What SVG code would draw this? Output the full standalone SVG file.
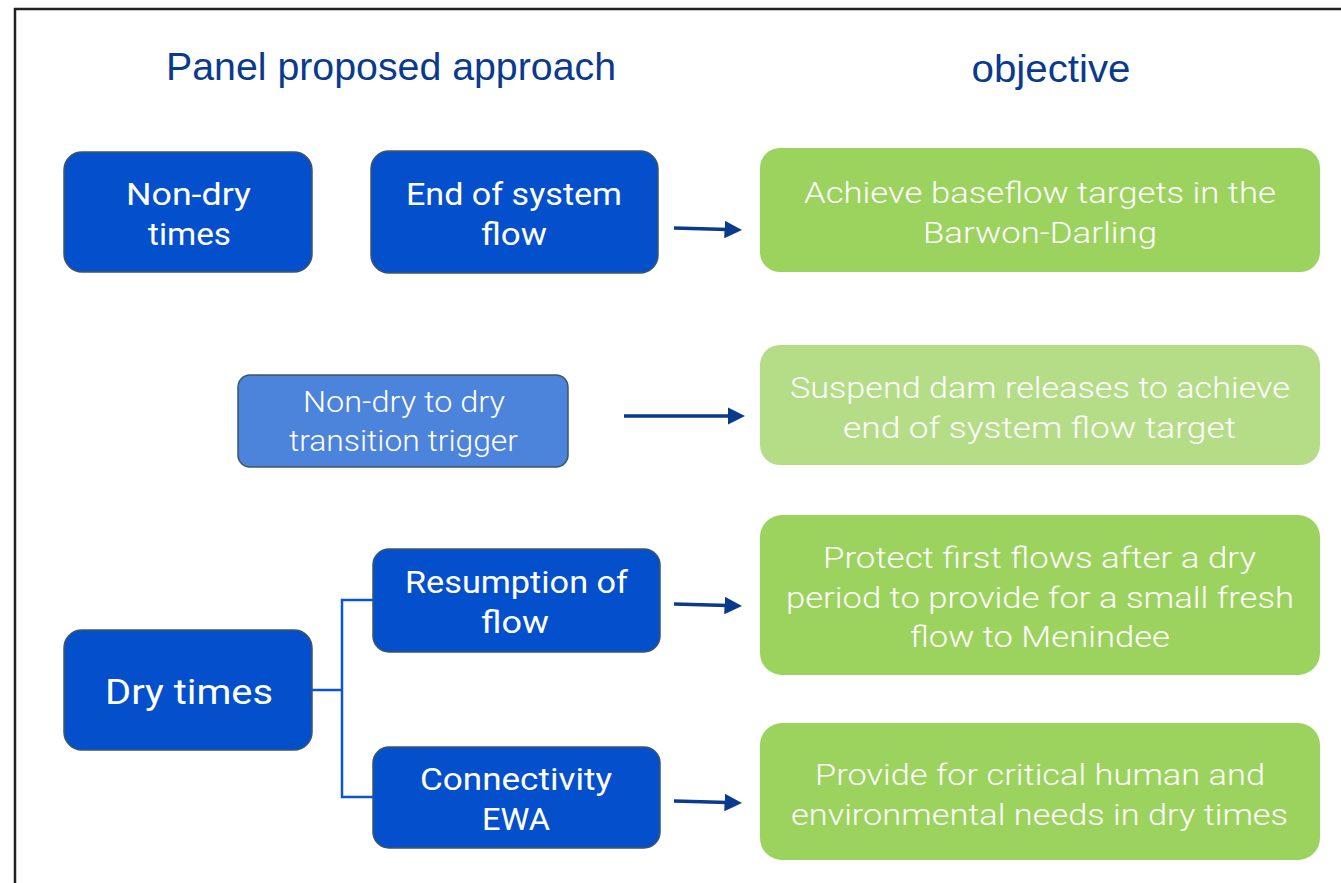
<svg xmlns="http://www.w3.org/2000/svg" width="1341" height="883" viewBox="0 0 1341 883">
<style>
.title{font-family:"Liberation Sans",Arial,sans-serif;font-size:38px;fill:#0a3a8e;text-anchor:middle}
.blue{fill:#0450cc;stroke:#3c5566;stroke-width:1.5}
.lblue{fill:#4c83db;stroke:#3c5566;stroke-width:1.5}
.green{fill:#9cd35e}
.lgreen{fill:#b5dd88}
.bt{font-family:Roboto,"Liberation Sans",sans-serif;font-size:31px;fill:#fff;text-anchor:middle}
.gt{font-family:Roboto,"Liberation Sans",sans-serif;font-weight:300;font-size:30px;fill:#fff;text-anchor:middle}
.arr{stroke:#0a3a8e;stroke-width:3.5;fill:none;marker-end:url(#ah)}
.br{stroke:#0a55d0;stroke-width:2.5;fill:none}
</style>
<defs>
<marker id="ah" markerWidth="5" markerHeight="5" refX="1" refY="2.5" orient="auto" markerUnits="strokeWidth">
<path d="M0,0 L5,2.5 L0,5 z" fill="#0a3a8e"/>
</marker>
</defs>
<rect x="0" y="0" width="1341" height="883" fill="#fff"/>
<path d="M15,883 V9 H1341" stroke="#222" stroke-width="2.5" fill="none"/>
<text class="title" x="391" y="80" textLength="450" lengthAdjust="spacingAndGlyphs">Panel proposed approach</text>
<text class="title" x="1051" y="82" textLength="159" lengthAdjust="spacingAndGlyphs">objective</text>

<g id="nondry">
<rect class="blue" x="64" y="152" width="248" height="120" rx="18"/>
<text class="bt" x="188.5" y="205" textLength="125" lengthAdjust="spacingAndGlyphs">Non-dry</text>
<text class="bt" x="189.5" y="245" textLength="83" lengthAdjust="spacingAndGlyphs">times</text>
</g>
<g id="eos">
<rect class="blue" x="371" y="151" width="287" height="122" rx="18"/>
<text class="bt" x="514" y="205" textLength="216" lengthAdjust="spacingAndGlyphs">End of system</text>
<text class="bt" x="514" y="245" textLength="66" lengthAdjust="spacingAndGlyphs">flow</text>
</g>
<g id="trigger">
<rect class="lblue" x="238" y="375" width="330" height="92" rx="12"/>
<text class="gt" x="404" y="412" textLength="202" lengthAdjust="spacingAndGlyphs">Non-dry to dry</text>
<text class="gt" x="403.5" y="451" textLength="229" lengthAdjust="spacingAndGlyphs">transition trigger</text>
</g>
<g id="dry">
<rect class="blue" x="64" y="630" width="248" height="120" rx="18"/>
<text class="bt" x="189" y="704" style="font-size:35px" textLength="168" lengthAdjust="spacingAndGlyphs">Dry times</text>
</g>
<g id="resumption">
<rect class="blue" x="373" y="549" width="287" height="103" rx="16"/>
<text class="bt" x="516.5" y="593" textLength="223" lengthAdjust="spacingAndGlyphs">Resumption of</text>
<text class="bt" x="515" y="633" textLength="68" lengthAdjust="spacingAndGlyphs">flow</text>
</g>
<g id="connectivity">
<rect class="blue" x="373" y="747" width="287" height="101" rx="16"/>
<text class="bt" x="516" y="790" textLength="192" lengthAdjust="spacingAndGlyphs">Connectivity</text>
<text class="bt" x="516" y="830" textLength="68" lengthAdjust="spacingAndGlyphs">EWA</text>
</g>

<g id="obj1">
<rect class="green" x="760" y="148" width="560" height="124" rx="20"/>
<text class="gt" x="1040" y="203" textLength="472" lengthAdjust="spacingAndGlyphs">Achieve baseflow targets in the</text>
<text class="gt" x="1040" y="243" textLength="234" lengthAdjust="spacingAndGlyphs">Barwon-Darling</text>
</g>
<g id="obj2">
<rect class="lgreen" x="760" y="345" width="560" height="120" rx="20"/>
<text class="gt" x="1040" y="398" textLength="500" lengthAdjust="spacingAndGlyphs">Suspend dam releases to achieve</text>
<text class="gt" x="1039.5" y="438" textLength="393" lengthAdjust="spacingAndGlyphs">end of system flow  target</text>
</g>
<g id="obj3">
<rect class="green" x="760" y="515" width="560" height="160" rx="22"/>
<text class="gt" x="1039.5" y="568" textLength="433" lengthAdjust="spacingAndGlyphs">Protect first flows after a dry</text>
<text class="gt" x="1040" y="608" textLength="508" lengthAdjust="spacingAndGlyphs">period to provide for a small fresh</text>
<text class="gt" x="1040" y="647" textLength="260" lengthAdjust="spacingAndGlyphs">flow to Menindee</text>
</g>
<g id="obj4">
<rect class="green" x="760" y="723" width="560" height="137" rx="22"/>
<text class="gt" x="1040" y="785" textLength="450" lengthAdjust="spacingAndGlyphs">Provide for critical human and</text>
<text class="gt" x="1039.5" y="825" textLength="497" lengthAdjust="spacingAndGlyphs">environmental needs in dry times</text>
</g>

<g id="connectors">
<path class="br" d="M312,690 H342 M373,600 H342 V797 H373"/>
<path class="arr" d="M674,228 L728,229.5"/>
<path class="arr" d="M624,416 L731,416"/>
<path class="arr" d="M674,604 L728,605.5"/>
<path class="arr" d="M674,801 L728,802.5"/>
</g>
</svg>
